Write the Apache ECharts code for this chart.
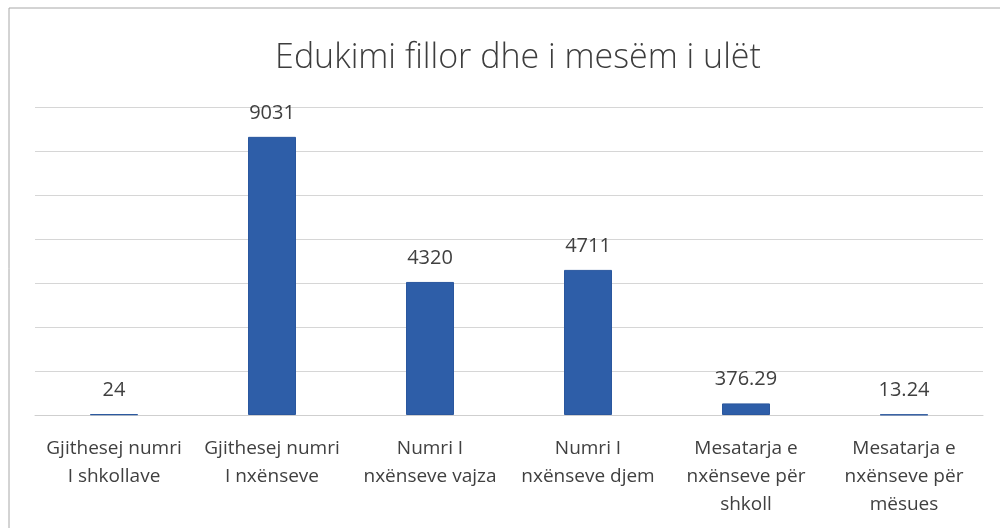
<!DOCTYPE html>
<html>
<head>
<meta charset="utf-8">
<script src="https://cdn.jsdelivr.net/npm/echarts@6/dist/echarts.min.js"></script>
<style>
  html, body { margin: 0; padding: 0; background: #fff; }
  #chart { width: 1000px; height: 528px; }
</style>
</head>
<body>
<div id="chart"></div>
<script>
// kategorite dhe vlerat
var categories = [
  'Gjithesej numri\nI shkollave',
  'Gjithesej numri\nI nxënseve',
  'Numri I\nnxënseve vajza',
  'Numri I\nnxënseve djem',
  'Mesatarja e\nnxënseve për\nshkoll',
  'Mesatarja e\nnxënseve për\nmësues'
]
var values = [24, 9031, 4320, 4711, 376.29, 13.24]
var valueLabels = ['24', '9031', '4320', '4711', '376.29', '13.24']
var chartTitle = 'Edukimi fillor dhe i mesëm i ulët'

var chart = echarts.init(document.getElementById('chart'))
var option = {
  animation: false,
  backgroundColor: '#fff',
  title: {
    text: chartTitle,
    left: 513,
    textAlign: 'center',
    top: 36,
    textStyle: {
      fontFamily: 'Open Sans',
      fontWeight: 300,
      fontSize: 34,
      color: '#3d3d3d'
    }
  },
  graphic: [
    {
      type: 'rect',
      shape: { x: 9, y: 8, width: 1100, height: 700 },
      style: { fill: 'none', stroke: '#a8a8a8', lineWidth: 1 },
      silent: true
    }
  ],
  grid: {
    left: 35,
    right: 17,
    top: 107,
    bottom: 113
  },
  xAxis: {
    type: 'category',
    data: categories,
    axisTick: { show: false },
    axisLine: { lineStyle: { color: '#cfcfcf', width: 1 } },
    axisLabel: {
      interval: 0,
      margin: 20,
      fontFamily: 'Open Sans',
      fontSize: 19,
      lineHeight: 28,
      color: '#404040'
    }
  },
  yAxis: {
    type: 'value',
    min: 0,
    max: 10000,
    interval: 10000 / 7,
    axisLabel: { show: false },
    axisLine: { show: false },
    axisTick: { show: false },
    splitLine: { lineStyle: { color: '#d6d6d6', width: 1 } }
  },
  series: [
    {
      type: 'bar',
      data: values,
      barWidth: 48,
      itemStyle: { color: '#2e5ea8', borderColor: '#2a579e', borderWidth: 1 },
      label: {
        show: true,
        position: 'top',
        distance: 14,
        fontFamily: 'Open Sans',
        fontSize: 20,
        color: '#404040',
        formatter: function (p) { return valueLabels[p.dataIndex] }
      }
    }
  ]
}
chart.setOption(option)
</script>
</body>
</html>
